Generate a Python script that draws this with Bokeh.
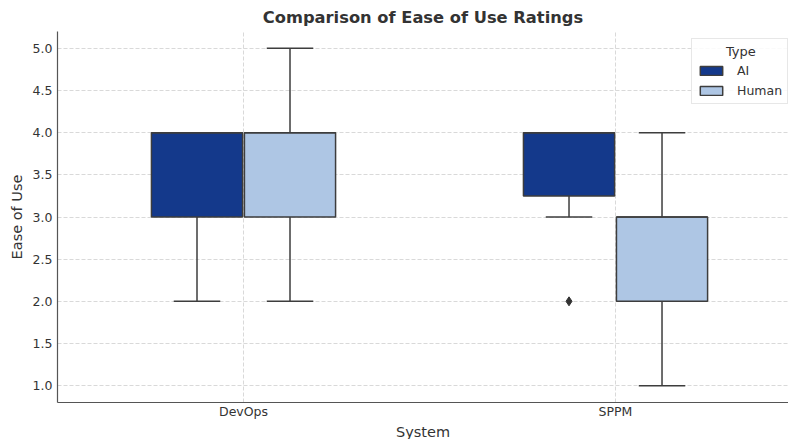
from bokeh.plotting import figure
from bokeh.models import Range1d, FixedTicker, PrintfTickFormatter, Legend, LegendItem, Title
from bokeh.embed import file_html
from bokeh.resources import INLINE

# ---- data ----
systems = ["DevOps", "SPPM"]
types = ["AI", "Human"]
ai_q1 = [3.0, 3.25]
ai_med = [4.0, 4.0]
ai_q3 = [4.0, 4.0]
ai_lo = [2.0, 3.0]
ai_hi = [4.0, 4.0]
ai_out_sys = [1]
ai_out_val = [2.0]
hu_q1 = [3.0, 2.0]
hu_med = [4.0, 3.0]
hu_q3 = [4.0, 3.0]
hu_lo = [2.0, 1.0]
hu_hi = [5.0, 4.0]
y_ticks = [1.0, 1.5, 2.0, 2.5, 3.0, 3.5, 4.0, 4.5, 5.0]

colors = {"AI": "#14398b", "Human": "#aec6e4"}
edge = "#3d3d3d"
txt = "#333333"
font = "DejaVu Sans"

p = figure(width=788, height=439, output_backend="svg", toolbar_location=None,
           x_range=Range1d(-0.5, 1.465), y_range=Range1d(0.8, 5.2),
           min_border_left=57, min_border_right=0, min_border_top=20, min_border_bottom=0)
p.outline_line_color = None

p.title.text = "Comparison of Ease of Use Ratings"
p.title.align = "center"
p.title.offset = 6.5
p.title.text_font = font
p.title.text_font_size = "16.3px"
p.title.text_font_style = "bold"
p.title.text_color = txt

for ax in (p.xaxis[0], p.yaxis[0]):
    ax.major_tick_in = 0
    ax.major_tick_out = 0
    ax.minor_tick_in = 0
    ax.minor_tick_out = 0
    ax.axis_line_color = "#555555"
    ax.axis_line_width = 1.2
    ax.major_label_text_font = font
    ax.major_label_text_font_size = "12.5px"
    ax.major_label_text_color = txt
    ax.major_label_text_line_height = 1.0
    ax.axis_label_text_font = font
    ax.axis_label_text_font_size = "14.5px"
    ax.axis_label_text_font_style = "normal"
    ax.axis_label_text_color = txt
    ax.axis_label_text_line_height = 1.0

p.xaxis.ticker = FixedTicker(ticks=list(range(len(systems))))
p.xaxis.major_label_overrides = {i: s for i, s in enumerate(systems)}
p.xaxis.major_label_standoff = 1
p.yaxis.ticker = FixedTicker(ticks=y_ticks)
p.yaxis.formatter = PrintfTickFormatter(format="%.1f")
p.yaxis.axis_label = "Ease of Use"
p.yaxis.major_label_standoff = 5
p.yaxis.axis_label_standoff = 5

xlab = Title(text="System", align="center", offset=6.5, standoff=0,
             text_font=font, text_font_size="14.5px", text_font_style="normal",
             text_color=txt)
p.add_layout(xlab, "below")

for g in (p.xgrid[0], p.ygrid[0]):
    g.grid_line_color = "#cfcfcf"
    g.grid_line_dash = "4 2"
    g.grid_line_width = 0.8
p.xgrid.ticker = p.xaxis.ticker
p.ygrid.ticker = p.yaxis.ticker

box_w = 0.245
cap_w = 0.125
offsets = {"AI": -0.125, "Human": 0.125}
stats = {
    "AI": (ai_q1, ai_med, ai_q3, ai_lo, ai_hi),
    "Human": (hu_q1, hu_med, hu_q3, hu_lo, hu_hi),
}

items = []
for t in types:
    q1, med, q3, lo, hi = stats[t]
    xs = [i + offsets[t] for i in range(len(systems))]
    p.segment(x0=xs, y0=q3, x1=xs, y1=hi, line_color=edge, line_width=1.5)
    p.segment(x0=xs, y0=lo, x1=xs, y1=q1, line_color=edge, line_width=1.5)
    p.segment(x0=[x - cap_w / 2 for x in xs], y0=hi, x1=[x + cap_w / 2 for x in xs], y1=hi,
              line_color=edge, line_width=1.5)
    p.segment(x0=[x - cap_w / 2 for x in xs], y0=lo, x1=[x + cap_w / 2 for x in xs], y1=lo,
              line_color=edge, line_width=1.5)
    r = p.quad(left=[x - box_w / 2 for x in xs], right=[x + box_w / 2 for x in xs],
               bottom=q1, top=q3, fill_color=colors[t], line_color=edge, line_width=1.5)
    p.segment(x0=[x - box_w / 2 for x in xs], y0=med, x1=[x + box_w / 2 for x in xs], y1=med,
              line_color=edge, line_width=1.5)
    items.append(LegendItem(label=t, renderers=[r]))

p.scatter(x=[s + offsets["AI"] for s in ai_out_sys], y=ai_out_val, marker="diamond",
          size=9, fill_color=txt, line_color=txt)

legend = Legend(items=items, location=(634, 298), title="\u00a0\u00a0\u00a0\u00a0\u00a0\u00a0\u00a0Type",
                title_text_font=font, title_text_font_size="13px", title_text_font_style="normal",
                title_text_color=txt, label_text_font=font, label_text_font_size="12.5px",
                label_text_color=txt, glyph_width=28, glyph_height=11,
                border_line_color="#d0d0d0", border_line_width=1, background_fill_alpha=0.85,
                padding=5, spacing=5, margin=0, label_standoff=12, title_standoff=4)
p.add_layout(legend)

open("out.html", "w").write(file_html(p, INLINE))
